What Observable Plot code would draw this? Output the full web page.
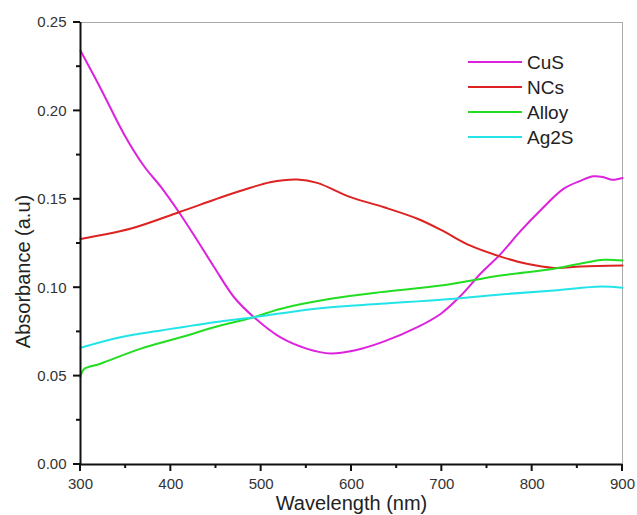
<!DOCTYPE html>
<html>
<head>
<meta charset="utf-8">
<script src="https://cdn.jsdelivr.net/npm/d3@7"></script>
<script src="https://cdn.jsdelivr.net/npm/@observablehq/plot@0.6"></script>
<style>
  html, body { margin: 0; padding: 0; background: #fff; }
  #chart { width: 637px; height: 515px; }
</style>
</head>
<body>
<div id="chart"></div>
<script>
// Absorption spectra: wavelength (nm) vs absorbance (a.u.)
const seriesNames = ["CuS", "NCs", "Alloy", "Ag2S"];
const seriesColors = ["#dd22dd", "#dd2222", "#22dd22", "#22e4e8"];

const cusWavelength = [300, 322, 348, 370, 389, 409, 429, 448, 470, 492, 521, 551, 577, 603, 634, 673, 699, 721, 743, 765, 787, 809, 835, 854, 868, 879, 889, 900];
const cusAbsorbance = [0.234, 0.213, 0.187, 0.169, 0.157, 0.1427, 0.127, 0.1116, 0.0946, 0.0833, 0.072, 0.0654, 0.0628, 0.0645, 0.0692, 0.0777, 0.0853, 0.0955, 0.108, 0.119, 0.132, 0.1437, 0.156, 0.1606, 0.163, 0.1625, 0.161, 0.162];

const ncsWavelength = [300, 355, 409, 455, 488, 510, 540, 562, 599, 636, 673, 699, 731, 765, 794, 824, 854, 900];
const ncsAbsorbance = [0.1276, 0.1333, 0.1427, 0.151, 0.1565, 0.1597, 0.1612, 0.1593, 0.1512, 0.1455, 0.139, 0.1327, 0.1239, 0.1176, 0.1135, 0.1112, 0.112, 0.1125];

const alloyWavelength = [300, 304, 322, 366, 411, 455, 492, 521, 577, 632, 699, 765, 824, 861, 879, 900];
const alloyAbsorbance = [0.0494, 0.054, 0.057, 0.0654, 0.072, 0.0786, 0.0833, 0.088, 0.0937, 0.0975, 0.1012, 0.1069, 0.1107, 0.1144, 0.1158, 0.1154];

const ag2sWavelength = [300, 344, 389, 448, 492, 558, 632, 699, 765, 824, 876, 900];
const ag2sAbsorbance = [0.066, 0.072, 0.0758, 0.0805, 0.0833, 0.088, 0.0909, 0.0932, 0.0962, 0.0984, 0.1007, 0.1];

const xMajorTicks = [300, 400, 500, 600, 700, 800, 900];
const xMinorTicks = [350, 450, 550, 650, 750, 850];
const yMajorTicks = [0, 0.05, 0.10, 0.15, 0.20, 0.25];
const yMinorTicks = [0.025, 0.075, 0.125, 0.175, 0.225];

const xTitle = "Wavelength (nm)";
const yTitle = "Absorbance (a.u)";

const wavelengths = [cusWavelength, ncsWavelength, alloyWavelength, ag2sWavelength];
const absorbances = [cusAbsorbance, ncsAbsorbance, alloyAbsorbance, ag2sAbsorbance];

const rows = seriesNames.flatMap((name, i) =>
  wavelengths[i].map((w, j) => ({series: name, wavelength: w, absorbance: absorbances[i][j]}))
);

const font = "'Liberation Sans', Arial, sans-serif";

const plot = Plot.plot({
  width: 637,
  height: 515,
  marginLeft: 80,
  marginRight: 15,
  marginTop: 22,
  marginBottom: 51,
  style: {fontFamily: font, background: "#fff", color: "#000"},
  x: {domain: [300, 900]},
  y: {domain: [0, 0.25]},
  color: {domain: seriesNames, range: seriesColors},
  marks: [
    Plot.frame({stroke: "#aaa", strokeWidth: 1}),
    Plot.line(rows, {x: "wavelength", y: "absorbance", z: "series", stroke: "series", strokeWidth: 2, curve: "catmull-rom"}),
    Plot.ruleX([300], {stroke: "#111", strokeWidth: 2}),
    Plot.ruleY([0], {stroke: "#111", strokeWidth: 2}),
    Plot.axisX({ticks: xMajorTicks, tickSize: 0, tickPadding: 14, tickFormat: d3.format("d"), fontSize: 15, fill: "#333", label: null}),
    Plot.axisY({ticks: yMajorTicks, tickSize: 0, tickPadding: 14, tickFormat: d3.format(".2f"), fontSize: 15, fill: "#333", label: null}),
    Plot.text([xTitle], {frameAnchor: "bottom", lineAnchor: "middle", dy: 39, fontSize: 20, fill: "#222"}),
    Plot.text([yTitle], {frameAnchor: "left", textAnchor: "middle", lineAnchor: "middle", rotate: -90, dx: -57, dy: 28, fontSize: 20, fill: "#222"})
  ]
});

document.getElementById("chart").appendChild(plot);

const svg = d3.select(plot);
const xs = plot.scale("x");
const ys = plot.scale("y");
const x0 = xs.apply(300);
const y0 = ys.apply(0);

// Outward tick marks on the left and bottom axes (major and minor)
const ticks = svg.append("g").attr("stroke", "#111").attr("stroke-width", 2);
const addXTicks = (values, len) => values.forEach(v => {
  const x = xs.apply(v);
  ticks.append("line").attr("x1", x).attr("x2", x).attr("y1", y0).attr("y2", y0 + len);
});
const addYTicks = (values, len) => values.forEach(v => {
  const y = ys.apply(v);
  ticks.append("line").attr("x1", x0).attr("x2", x0 - len).attr("y1", y).attr("y2", y);
});
addXTicks(xMajorTicks, 7);
addXTicks(xMinorTicks, 4);
addYTicks(yMajorTicks, 7);
addYTicks(yMinorTicks, 4);

// Legend: short line sample plus series name, stacked in the upper right
const legend = svg.append("g")
  .attr("font-family", font)
  .attr("font-size", 19)
  .attr("text-anchor", "start");
seriesNames.forEach((name, i) => {
  const y = 62 + i * 25;
  legend.append("line")
    .attr("x1", 468).attr("x2", 522).attr("y1", y).attr("y2", y)
    .attr("stroke", seriesColors[i]).attr("stroke-width", 2);
  legend.append("text")
    .attr("x", 527).attr("y", y).attr("dy", "0.35em")
    .attr("fill", "#222").text(name);
});
</script>
</body>
</html>
